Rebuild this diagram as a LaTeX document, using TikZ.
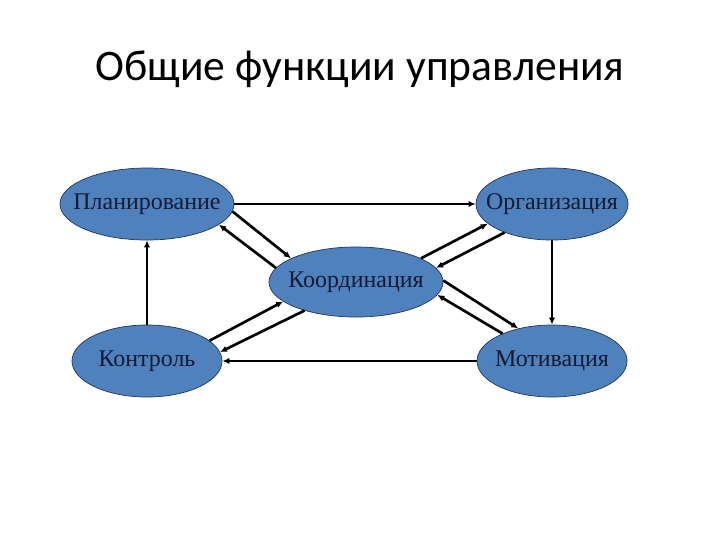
\documentclass[tikz,border=0pt]{standalone}
\usepackage{fontspec}
\setmainfont{Liberation Serif}
\newfontfamily\titlefont{Carlito}
\usetikzlibrary{shapes.geometric,arrows.meta}

\definecolor{ovalblue}{RGB}{79,129,189}
\definecolor{ovalline}{RGB}{36,54,90}
\definecolor{ovaltext}{RGB}{18,26,52}

% testo senza larghezza, cosi' l'ovale ha la misura data
\newcommand{\ovaltxt}[1]{\makebox[0pt]{#1}}

\begin{document}
\begin{tikzpicture}[x=0.025cm, y=-0.025cm,
    funz/.style={ellipse, draw=ovalline, line width=0.5pt, fill=ovalblue,
                 inner sep=0pt, text=ovaltext, font=\fontsize{17}{20}\selectfont},
    freccia/.style={-{Latex[length=5pt,width=4.5pt]}, line width=1.3pt},
    doppia/.style={-{Latex[length=5pt,width=4.5pt]}, line width=1.9pt}]

        % 1. Area del disegno e titolo
        \useasboundingbox[fill=white] (0,0) rectangle (720,540);
        \node (titolo) at (360,69) {\titlefont\fontsize{31}{37}\selectfont Общие функции управления};

        % 2. Gli ovali delle funzioni
        \node[funz, minimum width=4.35cm, minimum height=1.8cm] (plan) at (147,204) {\ovaltxt{Планирование}};
        \node[funz, minimum width=3.8cm, minimum height=1.8cm] (org) at (552,204) {\ovaltxt{Организация}};
        \node[funz, minimum width=4.35cm, minimum height=1.75cm] (coord) at (356,282) {\ovaltxt{Координация}};
        \node[funz, minimum width=3.75cm, minimum height=1.8cm] (ctrl) at (147,361) {\ovaltxt{Контроль}};
        \node[funz, minimum width=3.75cm, minimum height=1.8cm] (motiv) at (552,361) {\ovaltxt{Мотивация}};

        % 3. Il giro esterno: frecce semplici
        \draw[freccia] (plan) -- (org);
        \draw[freccia] (org) -- (motiv);
        \draw[freccia] (motiv) -- (ctrl);
        \draw[freccia] (ctrl) -- (plan);

        % 4. Coppie di frecce verso e dal centro
        \draw[doppia] (plan.-5) -- (coord.160);
        \draw[doppia] (coord.170) -- (plan.-16);
        \draw[doppia] (coord.20) -- (org.197);
        \draw[doppia] (org.211) -- (coord.10);
        \draw[doppia] (coord.1) -- (motiv.136);
        \draw[doppia] (motiv.151) -- (coord.-9);
        \draw[doppia] (ctrl.18) -- (coord.195);
        \draw[doppia] (coord.209) -- (ctrl.7);

    \end{tikzpicture}
\end{document}
